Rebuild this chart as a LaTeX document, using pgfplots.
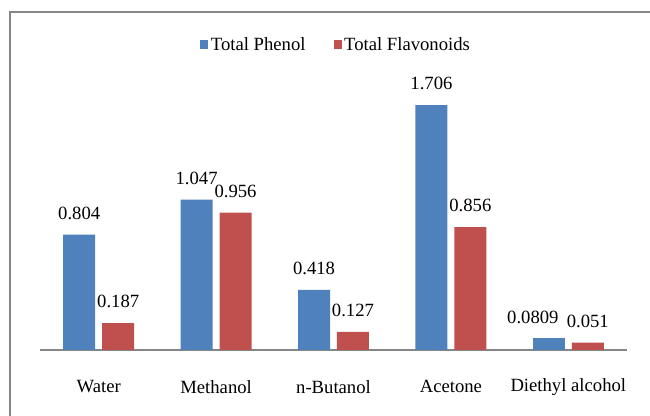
\documentclass[border=0pt]{standalone}
\usepackage{pgfplots}
\pgfplotsset{compat=1.18}
\usepackage{fontspec}
\setmainfont{Liberation Serif}
\definecolor{cblue}{RGB}{79,129,189}
\definecolor{cred}{RGB}{192,80,77}
\definecolor{cgray}{RGB}{134,134,134}
\begin{document}
\begin{tikzpicture}
\draw[line width=1.5pt,cgray] (7.5pt,0pt) -- (7.5pt,303pt) -- (487.5pt,303pt);
\begin{axis}[
  at={(30pt,49.5pt)}, anchor=south west,
  scale only axis,
  width=440.25pt, height=217.5pt,
  ybar, bar width=24pt,
  xmin=-0.5, xmax=4.5, ymin=0, ymax=2.02,
  axis x line=bottom, axis y line=none,
  x axis line style={cgray, line width=1.5pt, -},
  xtick={0,1,2,3,4},
  xticklabels={Water,Methanol,n-Butanol,Acetone,Diethyl alcohol},
  xtick style={draw=none},
  xticklabel style={font=\fontsize{14}{16}\selectfont, anchor=center, yshift=-25.5pt},
  nodes near coords,
  nodes near coords style={font=\fontsize{14}{16}\selectfont, anchor=center, yshift=16pt},
  point meta=explicit symbolic,
  legend style={at={(0.505,1.052)}, anchor=center, draw=none, fill=none,
    legend columns=2, font=\fontsize{14}{16}\selectfont,
    /tikz/every even column/.append style={column sep=19pt}},
  legend image code/.code={\fill[#1] (0pt,-3.4pt) rectangle (6pt,3.4pt);},
]
\addplot[fill=cblue, draw=none, bar shift=-14.6pt] coordinates {
  (0,0.804) [0.804] (1,1.047) [1.047] (2,0.418) [0.418] (3,1.706) [1.706]};
\addplot[fill=cred, draw=none, bar shift=14.6pt] coordinates {
  (0,0.187) [0.187] (1,0.956) [0.956] (2,0.127) [0.127] (3,0.856) [0.856] (4,0.051) [0.051]};
\addplot[fill=cblue, draw=none, bar shift=-14.6pt, forget plot,
  nodes near coords style={xshift=-12pt}] coordinates {(4,0.0809) [0.0809]};
\legend{Total Phenol, Total Flavonoids}
\end{axis}
\pgfresetboundingbox
\useasboundingbox (0pt,0pt) rectangle (487.5pt,312pt);
\end{tikzpicture}
\end{document}
